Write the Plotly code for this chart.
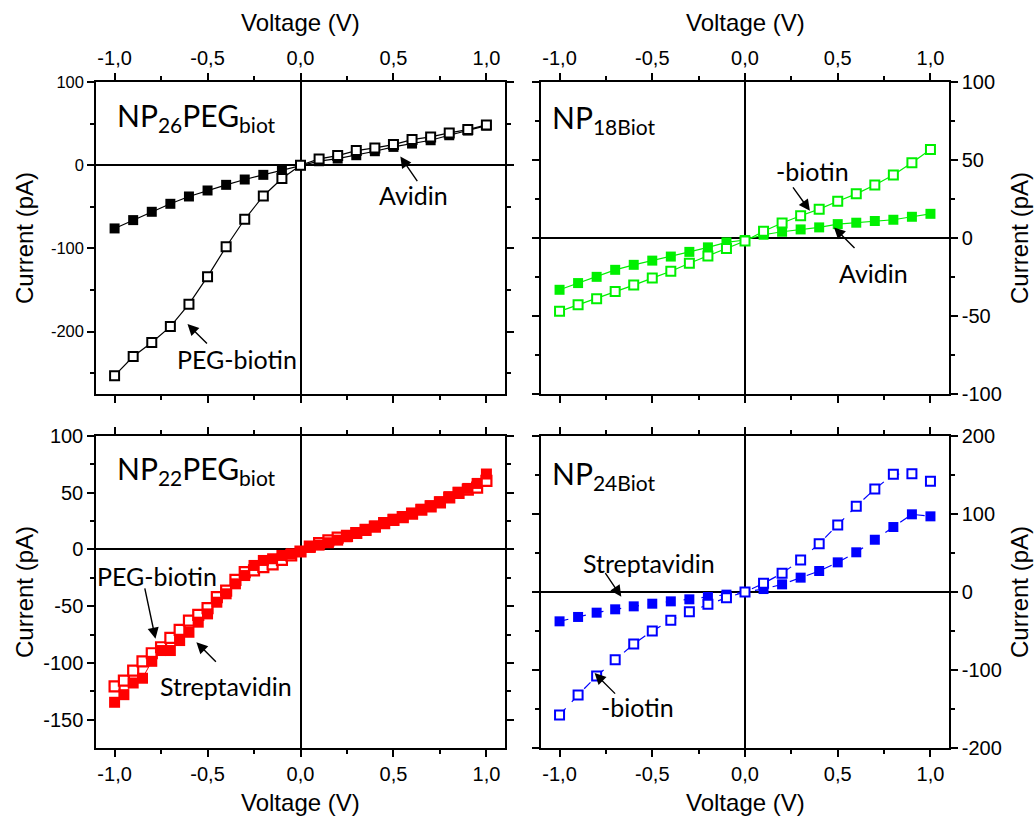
import plotly.graph_objects as go

# ---------------- data ----------------
V = [-1.0, -0.9, -0.8, -0.7, -0.6, -0.5, -0.4, -0.3, -0.2, -0.1, 0.0,
     0.1, 0.2, 0.3, 0.4, 0.5, 0.6, 0.7, 0.8, 0.9, 1.0]
V_fine = [-1.0, -0.95, -0.9, -0.85, -0.8, -0.75, -0.7, -0.65, -0.6, -0.55, -0.5,
          -0.45, -0.4, -0.35, -0.3, -0.25, -0.2, -0.15, -0.1, -0.05, 0.0,
          0.05, 0.1, 0.15, 0.2, 0.25, 0.3, 0.35, 0.4, 0.45, 0.5,
          0.55, 0.6, 0.65, 0.7, 0.75, 0.8, 0.85, 0.9, 0.95, 1.0]

# Panel A: NP26PEGbiot
np26_avidin = [-76, -66, -56, -46.4, -37.6, -30.4, -23.6, -17.2, -11.6, -6, 0,
               4.8, 8, 12, 16.8, 22, 26, 30, 36, 41.6, 47.6]
np26_pegbiotin = [-253, -230, -213, -194, -167, -134, -98, -65, -37, -16, 0,
                  7.6, 11.6, 17.6, 20.8, 24.8, 30.8, 34, 38.8, 42.8, 48.4]

# Panel B: NP18Biot
np18_avidin = [-33.2, -28.9, -24.9, -20.4, -17.2, -14.5, -11.9, -8.9, -6.0, -2.8, -1.3,
               2.1, 4.0, 5.5, 6.8, 8.9, 9.8, 10.9, 11.7, 13.6, 15.5]
np18_biotin = [-47, -42.8, -38.9, -34.3, -30.2, -25.7, -21.3, -16.2, -11.5, -6.8, -1.9,
               4.3, 9.6, 14.3, 18.5, 23.6, 28.3, 34, 40.4, 48.3, 56.8]

# Panel C: NP22PEGbiot
np22_strept = [-134.7, -128, -117.7, -113.5, -98.6, -89.1, -89.1, -80.3, -73, -64.1, -56.8,
               -46.5, -39.1, -30.3, -23, -14.1, -9.7, -8.2, -5.3, -3.8, -1.8,
               1.8, 3.8, 5.9, 8.2, 11.2, 14.7, 17.6, 20.6, 23.5, 26.5,
               28.8, 31.8, 35.3, 38.5, 42, 46.5, 50.3, 53.8, 58.2, 66.5]
np22_pegbiotin = [-120.6, -115.6, -106.8, -98.6, -91.5, -86.2, -78, -70.9, -62.7, -57.7, -51.8,
                  -42.1, -36.2, -26.8, -20, -18.5, -15.6, -13.2, -9.1, -5.3, -1.8,
                  2.5, 5.5, 8, 10.5, 12, 14.5, 17.2, 20.2, 23.2, 26.0,
                  28.5, 31.5, 35.0, 38.0, 41.5, 45.8, 49.8, 52.8, 54.5, 60.5]

# Panel D: NP24Biot
np24_strept = [-37.6, -32, -26.5, -22.2, -18.4, -15, -12, -9.4, -6.4, -3.4, 0,
               3.8, 9.8, 18.4, 26.9, 38, 50.9, 67, 83.3, 99.6, 97]
np24_biotin = [-157.7, -132, -107.7, -86.8, -66.7, -50, -36.3, -25.2, -15.8, -7.3, 0,
               11.1, 23.9, 41, 62, 85.9, 110, 132, 150.9, 151.7, 141.9]

x_ticks = [-1.0, -0.5, 0.0, 0.5, 1.0]
x_ticktext = ["-1,0", "-0,5", "0,0", "0,5", "1,0"]
x_minor = [-0.75, -0.25, 0.25, 0.75]

yA_ticks = [100, 0, -100, -200]
yA_minor = [50, -50, -150, -250]
yB_ticks = [100, 50, 0, -50, -100]
yB_minor = [75, 25, -25, -75]
yC_ticks = [100, 50, 0, -50, -100, -150]
yC_minor = [75, 25, -25, -75, -125]
yD_ticks = [200, 100, 0, -100, -200]
yD_minor = [150, 50, -50, -150]

BLACK = "#000000"
GREEN = "#00F000"
RED = "#FF0000"
BLUE = "#0000FF"

W, H = 1034, 816
TICKFONT = "Liberation Sans, Arial, sans-serif"
LABELFONT = "Lato, Open Sans, sans-serif"


def px(xpage):
    return xpage / W


def py(ypage):
    return 1 - ypage / H


fig = go.Figure()


def add_pair(xs, filled, opened, color, xa, ya, msize, dash="solid", lw=1.2):
    fig.add_trace(go.Scatter(
        x=xs, y=filled, mode="lines+markers", xaxis=xa, yaxis=ya,
        line=dict(color=color, width=lw, dash=dash),
        marker=dict(symbol="square", size=msize, color=color,
                    line=dict(color=color, width=0)),
        showlegend=False))
    fig.add_trace(go.Scatter(
        x=xs, y=opened, mode="lines+markers", xaxis=xa, yaxis=ya,
        line=dict(color=color, width=lw, dash=dash),
        marker=dict(symbol="square", size=msize - 1, color="white",
                    line=dict(color=color, width=2)),
        showlegend=False))


add_pair(V, np26_avidin, np26_pegbiotin, BLACK, "x", "y", 10)
add_pair(V, np18_avidin, np18_biotin, GREEN, "x2", "y2", 10)
fig.add_trace(go.Scatter(
    x=V_fine, y=np22_pegbiotin, mode="lines+markers", xaxis="x3", yaxis="y3",
    line=dict(color=RED, width=1),
    marker=dict(symbol="square", size=10, color="white", line=dict(color=RED, width=2.2)),
    showlegend=False))
fig.add_trace(go.Scatter(
    x=V_fine, y=np22_strept, mode="lines+markers", xaxis="x3", yaxis="y3",
    line=dict(color=RED, width=1),
    marker=dict(symbol="square", size=11, color=RED, line=dict(color=RED, width=0)),
    showlegend=False))
add_pair(V, np24_strept, np24_biotin, BLUE, "x4", "y4", 10, dash="dash")

xdomL = [px(96), px(505)]
xdomR = [px(541), px(949)]
ydomT = [py(394), py(82)]
ydomB = [py(748), py(436)]


def xaxis_cfg(domain, anchor, side):
    return dict(domain=domain, anchor=anchor, side=side, range=[-1.1, 1.1],
                automargin=False,
                tickmode="array", tickvals=x_ticks, ticktext=x_ticktext,
                ticks="outside", ticklen=7, tickwidth=1.5, tickcolor=BLACK,
                minor=dict(tickmode="array", tickvals=x_minor, ticks="outside",
                           ticklen=4, tickwidth=1.5, tickcolor=BLACK, showgrid=False),
                showline=True, linecolor=BLACK, linewidth=1.5, mirror="ticks",
                showgrid=False, zeroline=True, zerolinecolor=BLACK, zerolinewidth=1.5,
                tickfont=dict(family=TICKFONT, size=20, color=BLACK))


def yaxis_cfg(domain, anchor, side, rng, ticks, minor, fsize=20):
    return dict(domain=domain, anchor=anchor, side=side, range=rng,
                automargin=False,
                tickmode="array", tickvals=ticks, ticktext=[str(t) for t in ticks],
                ticks="outside", ticklen=7, tickwidth=1.5, tickcolor=BLACK,
                minor=dict(tickmode="array", tickvals=minor, ticks="outside",
                           ticklen=4, tickwidth=1.5, tickcolor=BLACK, showgrid=False),
                showline=True, linecolor=BLACK, linewidth=1.5, mirror="ticks",
                showgrid=False, zeroline=True, zerolinecolor=BLACK, zerolinewidth=1.5,
                tickfont=dict(family=TICKFONT, size=fsize, color=BLACK))


fig.update_layout(
    width=W, height=H, autosize=False,
    margin=dict(l=0, r=0, t=0, b=0, pad=0, autoexpand=False),
    paper_bgcolor="white", plot_bgcolor="white",
    xaxis=xaxis_cfg(xdomL, "y", "top"),
    xaxis2=xaxis_cfg(xdomR, "y2", "top"),
    xaxis3=xaxis_cfg(xdomL, "y3", "bottom"),
    xaxis4=xaxis_cfg(xdomR, "y4", "bottom"),
    yaxis=yaxis_cfg(ydomT, "x", "left", [-275, 100], yA_ticks, yA_minor, 16.5),
    yaxis2=yaxis_cfg(ydomT, "x2", "right", [-100, 100], yB_ticks, yB_minor),
    yaxis3=yaxis_cfg(ydomB, "x3", "left", [-175, 100], yC_ticks, yC_minor),
    yaxis4=yaxis_cfg(ydomB, "x4", "right", [-200, 200], yD_ticks, yD_minor),
)

ann = []
tf = dict(family=TICKFONT, size=24, color=BLACK)
for xc in [(96 + 505) / 2, (541 + 949) / 2]:
    ann.append(dict(text="Voltage (V)", x=px(xc), y=py(22), xref="paper", yref="paper",
                    showarrow=False, font=tf, xanchor="center", yanchor="middle"))
    ann.append(dict(text="Voltage (V)", x=px(xc), y=py(802), xref="paper", yref="paper",
                    showarrow=False, font=tf, xanchor="center", yanchor="middle"))
for yc in [238, 592]:
    ann.append(dict(text="Current (pA)", x=px(24), y=py(yc), xref="paper", yref="paper",
                    showarrow=False, font=tf, textangle=-90, xanchor="center", yanchor="middle"))
    ann.append(dict(text="Current (pA)", x=px(1019), y=py(yc), xref="paper", yref="paper",
                    showarrow=False, font=tf, textangle=-90, xanchor="center", yanchor="middle"))

big = dict(family=LABELFONT, size=30, color=BLACK)
lab = dict(family=LABELFONT, size=25, color=BLACK)

ann.append(dict(text="NP<sub>26</sub>PEG<sub>biot</sub>", x=-1.0, y=58, xref="x", yref="y",
                showarrow=False, font=big, xanchor="left", yanchor="middle"))
ann.append(dict(text="NP<sub>18Biot</sub>", x=-1.05, y=76, xref="x2", yref="y2",
                showarrow=False, font=big, xanchor="left", yanchor="middle"))
ann.append(dict(text="NP<sub>22</sub>PEG<sub>biot</sub>", x=-1.0, y=70, xref="x3", yref="y3",
                showarrow=False, font=big, xanchor="left", yanchor="middle"))
ann.append(dict(text="NP<sub>24Biot</sub>", x=-1.05, y=150, xref="x4", yref="y4",
                showarrow=False, font=big, xanchor="left", yanchor="middle"))


def label(text, x, y, xr, yr):
    ann.append(dict(text=text, x=x, y=y, xref=xr, yref=yr, showarrow=False, font=lab,
                    xanchor="center", yanchor="middle"))


def arrow(xh, yh, ax, ay, xr, yr):
    ann.append(dict(text="", x=xh, y=yh, xref=xr, yref=yr, showarrow=True, ax=ax, ay=ay,
                    arrowhead=2, arrowsize=1.6, arrowwidth=1.4, arrowcolor=BLACK, standoff=0))


label("Avidin", 0.607, -36.4, "x", "y")
arrow(0.537, 10.4, 18, 26, "x", "y")
label("PEG-biotin", -0.34, -233, "x", "y")
arrow(-0.608, -191, 21, 21, "x", "y")

label("-biotin", 0.364, 43, "x2", "y2")
arrow(0.35, 17.4, -18, -25, "x2", "y2")
label("Avidin", 0.695, -22.3, "x2", "y2")
arrow(0.48, 6.8, 22, 22, "x2", "y2")

label("PEG-biotin", -0.771, -23, "x3", "y3")
arrow(-0.78, -78.8, -11, -52, "x3", "y3")
label("Streptavidin", -0.399, -120, "x3", "y3")
arrow(-0.56, -81.8, 21, 21, "x3", "y3")

label("Streptavidin", -0.515, 36.8, "x4", "y4")
arrow(-0.667, -6, -17, -25, "x4", "y4")
label("-biotin", -0.578, -147, "x4", "y4")
arrow(-0.811, -104, 22, 22, "x4", "y4")

fig.update_layout(annotations=ann)
fig.write_html(
    "out.html",
    config={"displayModeBar": False},
    post_script="document.body.style.margin='0';document.body.style.overflow='hidden';",
)
